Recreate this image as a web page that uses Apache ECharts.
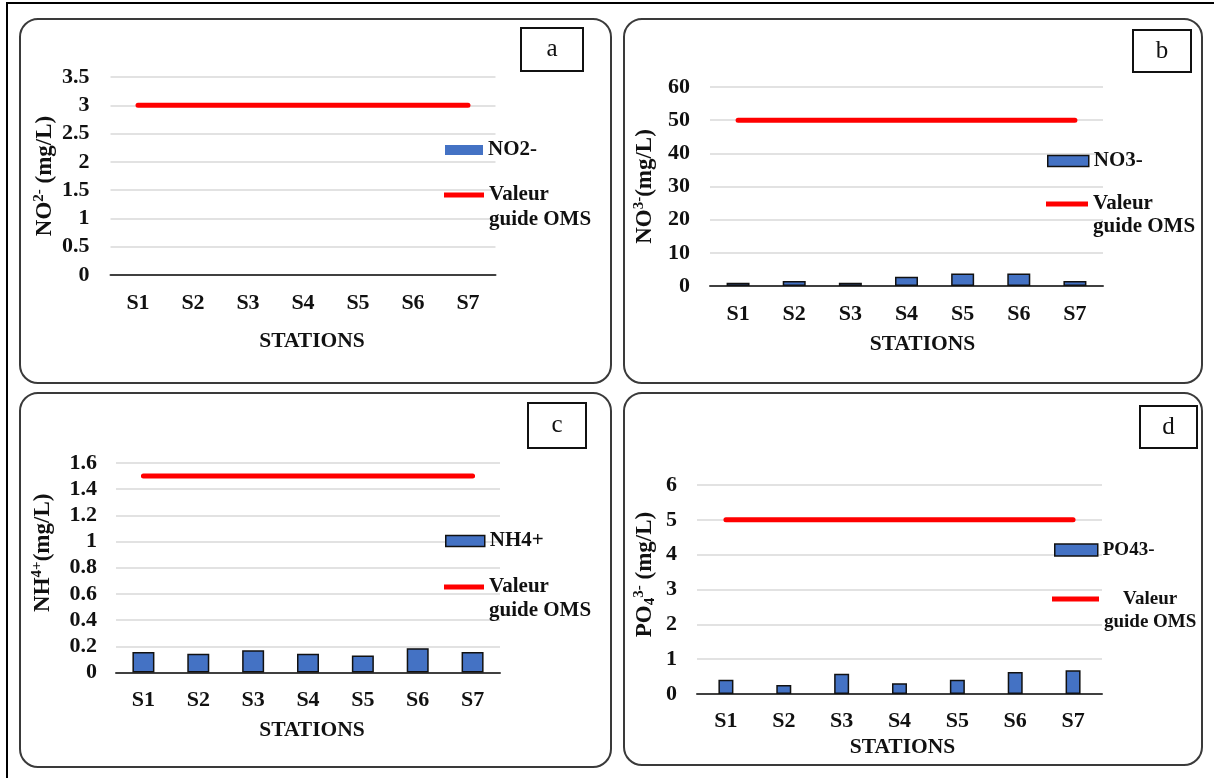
<!DOCTYPE html>
<html>
<head>
<meta charset="utf-8">
<script src="https://cdn.jsdelivr.net/npm/echarts@6/dist/echarts.min.js"></script>
<style>
  html, body { margin: 0; padding: 0; background: #ffffff; }
  #chart { width: 1214px; height: 778px; }
</style>
</head>
<body>
<div id="chart"></div>
<script>
// Stations sampled
const stations = ['S1', 'S2', 'S3', 'S4', 'S5', 'S6', 'S7'];

// Measured concentrations (mg/L)
const no2Values = [0, 0, 0, 0, 0, 0, 0];
const no3Values = [1.0, 1.5, 1.0, 2.8, 3.8, 3.8, 1.5];
const nh4Values = [0.157, 0.144, 0.17, 0.144, 0.13, 0.186, 0.157];
const po4Values = [0.41, 0.26, 0.58, 0.31, 0.41, 0.63, 0.68];

// WHO guide values (mg/L)
const guideNO2 = 3;
const guideNO3 = 50;
const guideNH4 = 1.5;
const guidePO4 = 5;

// Value axis ranges
const yMaxNO2 = 3.5, yStepNO2 = 0.5;
const yMaxNO3 = 60,  yStepNO3 = 10;
const yMaxNH4 = 1.6, yStepNH4 = 0.2;
const yMaxPO4 = 6,   yStepPO4 = 1;

const guideName = 'Valeur guide OMS';
const FONT = 'Liberation Serif, Times New Roman, serif';
const BAR_COLOR = '#4472C4';
const RED = '#FF0000';
const INK = '#111111';

// Layout of the four panels
const panels = [
  { tag: 'a', barName: 'NO2-', bars: no2Values, guide: guideNO2, yMax: yMaxNO2, yStep: yStepNO2,
    yName: 'NO{sup|2-} (mg/L)', barBorder: 0,
    grid: { left: 110.5, top: 77, width: 385, height: 198 }, barWidth: 22,
    yLabelMargin: 21, yNameGap: 51, yNameShift: 0, xLabelMargin: 17, xNameGap: 55, xNameShift: 9,
    frame: [20, 19, 591, 364], tagBox: [521, 28, 62, 43],
    legBar: { left: 445, cy: 150, w: 38, h: 10 }, legLine: { left: 444, cy: 195, w: 40 },
    legSize: 21, legLH: 25, legCenter: false },
  { tag: 'b', barName: 'NO3-', bars: no3Values, guide: guideNO3, yMax: yMaxNO3, yStep: yStepNO3,
    yName: 'NO{sup|3-}(mg/L)', barBorder: 1.5,
    grid: { left: 710, top: 87, width: 393, height: 199 }, barWidth: 23,
    yLabelMargin: 20, yNameGap: 52, yNameShift: 0, xLabelMargin: 17, xNameGap: 47, xNameShift: 16,
    frame: [624, 19, 578, 364], tagBox: [1133, 30, 58, 42],
    legBar: { left: 1047, cy: 161, w: 41, h: 11 }, legLine: { left: 1046, cy: 204, w: 42 },
    legSize: 21, legLH: 23, legCenter: false },
  { tag: 'c', barName: 'NH4+', bars: nh4Values, guide: guideNH4, yMax: yMaxNH4, yStep: yStepNH4,
    yName: 'NH{sup|4+}(mg/L)', barBorder: 1.5,
    grid: { left: 116, top: 463, width: 384, height: 209.5 }, barWidth: 22,
    yLabelMargin: 19, yNameGap: 60, yNameShift: 15, xLabelMargin: 17, xNameGap: 47, xNameShift: 4,
    frame: [20, 393, 591, 374], tagBox: [528, 403, 58, 45],
    legBar: { left: 445, cy: 541, w: 39, h: 11 }, legLine: { left: 444, cy: 587, w: 40 },
    legSize: 21, legLH: 24, legCenter: false },
  { tag: 'd', barName: 'PO43-', bars: po4Values, guide: guidePO4, yMax: yMaxPO4, yStep: yStepPO4,
    yName: 'PO{sub|4}{sup|3-} (mg/L)', barBorder: 1.5,
    grid: { left: 697, top: 485, width: 405, height: 209 }, barWidth: 15,
    yLabelMargin: 20, yNameGap: 39, yNameShift: 15, xLabelMargin: 16, xNameGap: 42, xNameShift: 3,
    frame: [624, 393, 578, 372], tagBox: [1140, 406, 57, 42],
    legBar: { left: 1054, cy: 550, w: 43, h: 12 }, legLine: { left: 1052, cy: 599, w: 47 },
    legSize: 19, legLH: 23, legCenter: true }
];

const nameRich = {
  sup: { fontFamily: FONT, fontWeight: 'bold', fontSize: 15, lineHeight: 14, verticalAlign: 'top', color: INK },
  sub: { fontFamily: FONT, fontWeight: 'bold', fontSize: 15, lineHeight: 14, verticalAlign: 'bottom', color: INK }
};

const grids = [], xAxes = [], yAxes = [], series = [], legends = [], graphics = [];

// Outer frame (only its top and left edges fall inside the canvas)
graphics.push({
  type: 'rect', shape: { x: 7, y: 3, width: 1240, height: 800 },
  style: { fill: null, stroke: '#000', lineWidth: 2 }, silent: true, z: 0
});

panels.forEach((p, i) => {
  grids.push(Object.assign({ containLabel: false }, p.grid));

  xAxes.push({
    type: 'category', gridIndex: i, data: stations,
    axisTick: { show: false },
    axisLine: { lineStyle: { color: '#404040', width: 2 } },
    axisLabel: { fontFamily: FONT, fontWeight: 'bold', fontSize: 22, color: INK, margin: p.xLabelMargin },
    name: 'STATIONS', nameLocation: 'middle', nameGap: p.xNameGap,
    nameTextStyle: { fontFamily: FONT, fontWeight: 'bold', fontSize: 21.5, color: INK,
                     padding: [0, 0, 0, p.xNameShift * 2] }
  });

  yAxes.push({
    type: 'value', gridIndex: i, min: 0, max: p.yMax, interval: p.yStep,
    axisLine: { show: false }, axisTick: { show: false },
    splitLine: { lineStyle: { color: '#d9d9d9', width: 1.5 } },
    axisLabel: { fontFamily: FONT, fontWeight: 'bold', fontSize: 22, color: INK, margin: p.yLabelMargin },
    name: p.yName, nameLocation: 'middle', nameRotate: 90, nameGap: p.yNameGap,
    nameTextStyle: { fontFamily: FONT, fontWeight: 'bold', fontSize: 23, color: INK, lineHeight: 26,
                     padding: [0, 0, 0, p.yNameShift * 2], rich: nameRich }
  });

  series.push({
    type: 'bar', name: p.barName, xAxisIndex: i, yAxisIndex: i, data: p.bars,
    barWidth: p.barWidth, z: 2,
    itemStyle: { color: BAR_COLOR, borderColor: INK, borderWidth: p.barBorder }
  });
  series.push({
    type: 'line', name: guideName, xAxisIndex: i, yAxisIndex: i,
    data: stations.map(() => p.guide),
    showSymbol: false, symbol: 'none', z: 3, color: RED,
    itemStyle: { color: RED },
    lineStyle: { color: RED, width: 5, cap: 'round' }
  });

  const legText = { fontFamily: FONT, fontSize: p.legSize, fontWeight: 'bold', color: INK, lineHeight: p.legLH };

  legends.push({
    data: [{ name: p.barName, icon: 'rect' }],
    left: p.legBar.left, top: p.legBar.cy - p.legLH / 2,
    itemWidth: p.legBar.w, itemHeight: p.legBar.h, itemGap: 0, padding: 0, textGap: 5,
    selectedMode: false,
    itemStyle: { color: BAR_COLOR, borderColor: INK, borderWidth: p.barBorder },
    textStyle: legText
  });

  // Guide-value legend: a blank first line keeps "Valeur" level with the red key
  const lineLegText = Object.assign({}, legText);
  if (p.legCenter) {
    lineLegText.rich = {
      c: { fontFamily: FONT, fontSize: p.legSize, fontWeight: 'bold', color: INK, lineHeight: p.legLH, align: 'center' }
    };
  }
  legends.push({
    data: [{ name: guideName, icon: 'rect' }],
    left: p.legLine.left, top: p.legLine.cy - p.legLH * 1.5,
    itemWidth: p.legLine.w, itemHeight: 5, itemGap: 0, padding: 0, textGap: 5,
    selectedMode: false,
    itemStyle: { color: RED, borderWidth: 0 },
    formatter: p.legCenter ? '{c| }\n{c|Valeur}\n{c|guide OMS}' : ' \nValeur\nguide OMS',
    textStyle: lineLegText
  });

  // Rounded panel frame
  graphics.push({
    type: 'rect', silent: true, z: 0,
    shape: { x: p.frame[0], y: p.frame[1], width: p.frame[2], height: p.frame[3], r: 18 },
    style: { fill: null, stroke: '#3a3a3a', lineWidth: 2 }
  });
  // Panel letter box
  graphics.push({
    type: 'rect', silent: true, z: 1,
    shape: { x: p.tagBox[0], y: p.tagBox[1], width: p.tagBox[2], height: p.tagBox[3] },
    style: { fill: '#fff', stroke: INK, lineWidth: 2 }
  });
  graphics.push({
    type: 'text', silent: true, z: 2,
    x: p.tagBox[0] + p.tagBox[2] / 2, y: p.tagBox[1] + p.tagBox[3] / 2,
    style: { text: p.tag, fontFamily: FONT, fontSize: 25, fill: INK, align: 'center', verticalAlign: 'middle' }
  });
});

const chart = echarts.init(document.getElementById('chart'), null, { renderer: 'canvas' });
chart.setOption({
  backgroundColor: '#ffffff',
  animation: false,
  grid: grids,
  xAxis: xAxes,
  yAxis: yAxes,
  legend: legends,
  series: series,
  graphic: graphics
});
</script>
</body>
</html>
